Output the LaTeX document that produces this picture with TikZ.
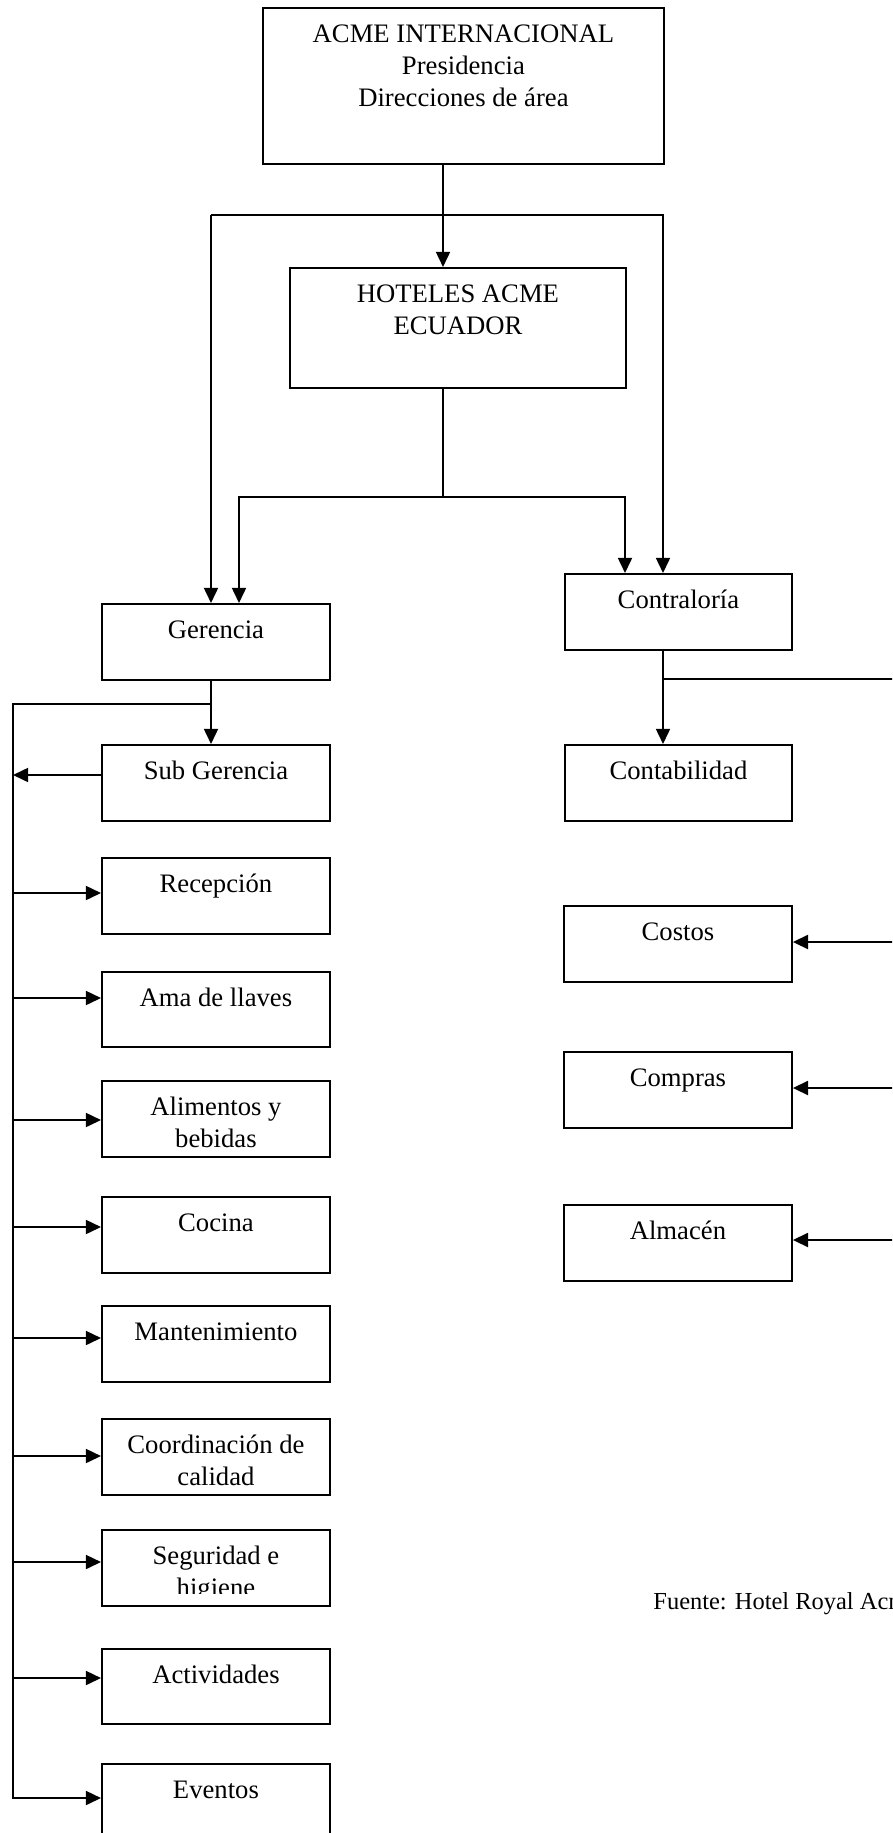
\documentclass[tikz,border=0pt]{standalone}
\usepackage{fontspec}
\setmainfont{Liberation Serif}
\usetikzlibrary{arrows.meta}

% one drawing unit on the page
\newdimen\pxu \pxu=0.45pt
% box body: fixed width and height, text set from the top
\newcommand\boxbody[3]{\parbox[c][#2\pxu][t]{#1\pxu}{\centering\rule{0pt}{35\pxu}#3}}

\tikzset{
  unit/.style={draw, line width=0.85pt, inner sep=0pt, anchor=north west,
               font=\fontsize{12pt}{14.4pt}\selectfont},
  link/.style={line width=0.85pt},
  arr/.style={link, -{Triangle[length=6.8pt,width=6.3pt]}},
}

\begin{document}
\begin{tikzpicture}[x=0.45pt,y=-0.45pt]
\useasboundingbox (0,0) rectangle (892,1833);
\clip (0,0) rectangle (892,1833);

% top levels
\node[unit] (acme) at (262,7) {\boxbody{401}{156}{ACME INTERNACIONAL\\Presidencia\\Direcciones de área}};
\node[unit] (hotel) at (289,267) {\boxbody{336}{120}{HOTELES ACME\\ECUADOR}};

% management column
\node[unit] (ger)     at (101,603)  {\boxbody{228}{76}{Gerencia}};
\node[unit] (sub)     at (101,744)  {\boxbody{228}{76}{Sub Gerencia}};
\node[unit] (recep)   at (101,857)  {\boxbody{228}{76}{Recepción}};
\node[unit] (ama)     at (101,971)  {\boxbody{228}{75}{Ama de llaves}};
\node[unit] (alim)    at (101,1080) {\boxbody{228}{76}{Alimentos y\\bebidas}};
\node[unit] (cocina)  at (101,1196) {\boxbody{228}{76}{Cocina}};
\node[unit] (mant)    at (101,1305) {\boxbody{228}{76}{Mantenimiento}};
\node[unit] (coord)   at (101,1418) {\boxbody{228}{76}{Coordinación de\\calidad}};
\begin{scope}
  % the second line of this box is cut off above its frame
  \clip (0,0) rectangle (892,1833)
        (103,1593) -- (327,1593) -- (327,1603.5) -- (103,1603.5) -- cycle;
  \node[unit] (seg)   at (101,1529) {\boxbody{228}{76}{Seguridad e\\higiene}};
\end{scope}
\node[unit] (activ)   at (101,1648) {\boxbody{228}{75}{Actividades}};
\node[unit] (eventos) at (101,1763) {\boxbody{228}{76}{Eventos}};

% comptroller column
\node[unit] (contra)  at (564,573)  {\boxbody{227}{76}{Contraloría}};
\node[unit] (conta)   at (564,744)  {\boxbody{227}{76}{Contabilidad}};
\node[unit] (costos)  at (563,905)  {\boxbody{228}{76}{Costos}};
\node[unit] (compras) at (563,1051) {\boxbody{228}{76}{Compras}};
\node[unit] (almacen) at (563,1204) {\boxbody{228}{76}{Almacén}};

\node[font=\fontsize{11pt}{13pt}\selectfont, anchor=base west, inner sep=0pt] (src) at (653,1609) {Fuente: Hotel Royal Acme};

% international head to the hotels and down to both branches
\coordinate (trunk) at (443,215);
\coordinate (barL) at (211,215);
\coordinate (barR) at (663,215);
\draw[arr] (acme.south -| trunk) -- (hotel.north -| trunk);
\draw[arr] (barL) -- (ger.north -| barL);
\draw[arr] (barL) -- (barR) -- (contra.north -| barR);

% hotels to management and comptroller
\coordinate (hsplit) at (443,497);
\coordinate (hL) at (239,497);
\coordinate (hR) at (625,497);
\draw[link] (hotel.south -| hsplit) -- (hsplit);
\draw[arr] (hsplit) -- (hL) -- (ger.north -| hL);
\draw[arr] (hsplit) -- (hR) -- (contra.north -| hR);

% management spine
\coordinate (gsplit) at (211,704);
\coordinate (spineTop) at (13,704);
\coordinate (spineEnd) at (13,1798);
\draw[arr] (ger.south -| gsplit) -- (sub.north -| gsplit);
\draw[arr] (gsplit) -- (spineTop) -- (spineEnd) -- (eventos.west |- spineEnd);
\coordinate (t-sub) at (13,775);
\draw[arr] (sub.west |- t-sub) -- (t-sub);
\foreach \n/\y in {recep/893, ama/998, alim/1120, cocina/1227, mant/1338,
                   coord/1456, seg/1562, activ/1678} {
  \coordinate (t-\n) at (13,\y);
  \draw[arr] (t-\n) -- (\n.west |- t-\n);
}

% comptroller branch
\coordinate (csplit) at (663,679);
\coordinate (cEdge) at (895,679);
\draw[arr] (contra.south -| csplit) -- (conta.north -| csplit);
\draw[link] (csplit) -- (cEdge);
\foreach \n/\y in {costos/942, compras/1088, almacen/1240} {
  \coordinate (r-\n) at (895,\y);
  \draw[arr] (r-\n) -- (\n.east |- r-\n);
}
\end{tikzpicture}
\end{document}
